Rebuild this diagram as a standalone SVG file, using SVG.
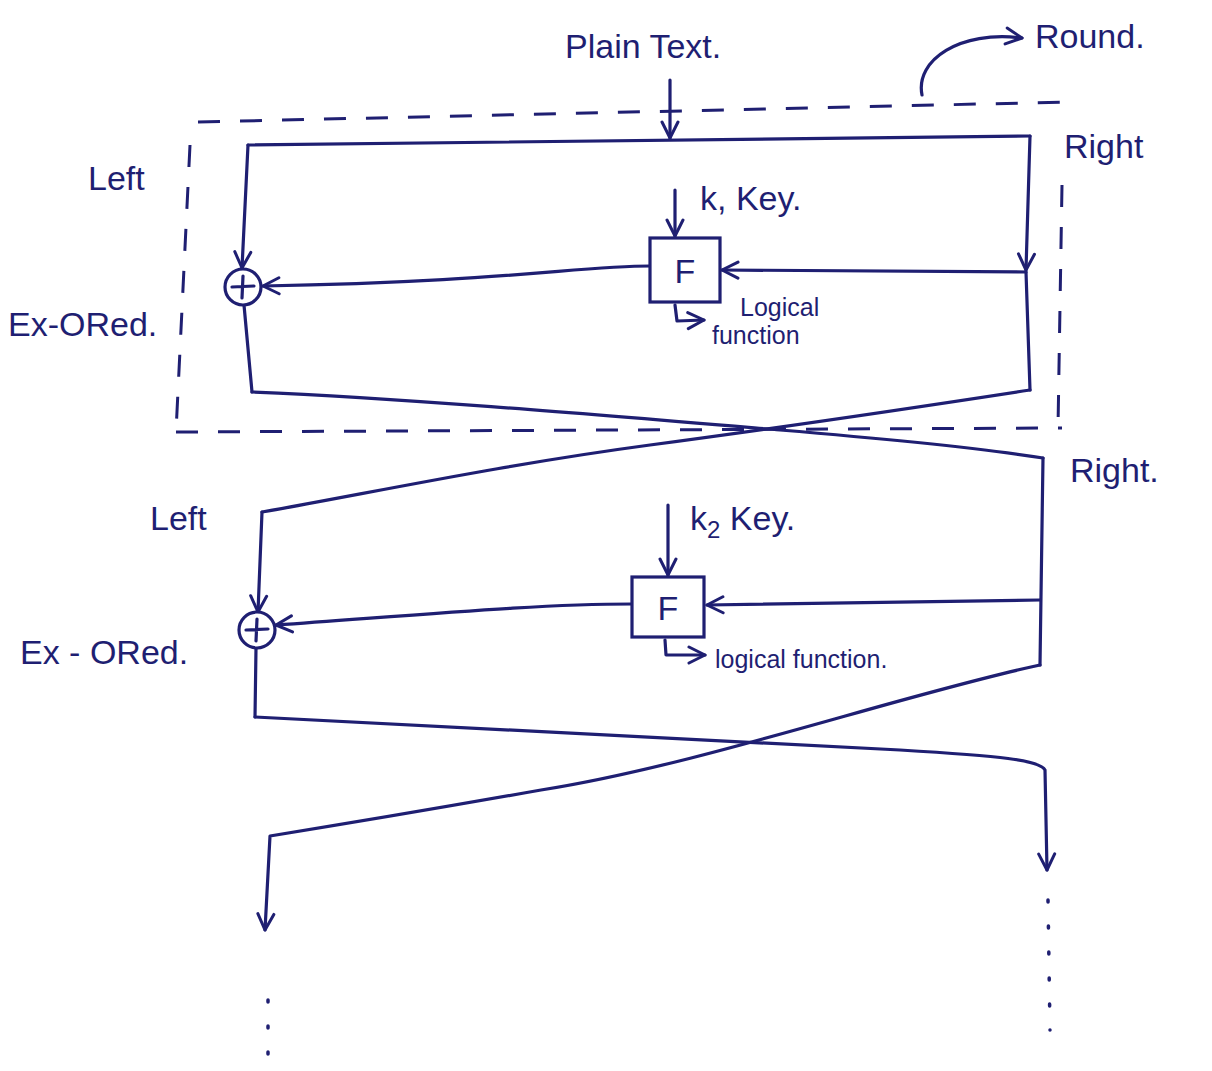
<svg xmlns="http://www.w3.org/2000/svg" width="1212" height="1071" viewBox="0 0 1212 1071">
<style>
.ln{fill:none;stroke:#1f1f72;stroke-width:3.2;stroke-linecap:round;stroke-linejoin:round}
.ds{fill:none;stroke:#1f1f72;stroke-width:3;stroke-dasharray:22 20}
.dt{fill:none;stroke:#1f1f72;stroke-width:3.5;stroke-dasharray:2 24;stroke-linecap:round}
.box{fill:#fff;stroke:#1f1f72;stroke-width:3.2}
text{font-family:"Liberation Sans","DejaVu Sans",sans-serif;fill:#1f1f72}
.lb{font-size:34px}
.sm{font-size:25px}
</style>
<defs>
<marker id="ah" viewBox="0 0 20 20" refX="18" refY="10" markerWidth="20" markerHeight="20" markerUnits="userSpaceOnUse" orient="auto">
<path d="M2,2 L18,10 L2,18" fill="none" stroke="#1f1f72" stroke-width="3" stroke-linecap="round" stroke-linejoin="round"/>
</marker>
</defs>
<rect width="1212" height="1071" fill="#ffffff"/>

<g id="labels">
<text class="lb" x="565" y="58">Plain Text.</text>
<text class="lb" x="1035" y="48">Round.</text>
<text class="lb" x="88" y="190">Left</text>
<text class="lb" x="1064" y="158">Right</text>
<text class="lb" x="8" y="336">Ex-ORed.</text>
<text class="lb" x="150" y="530">Left</text>
<text class="lb" x="1070" y="482">Right.</text>
<text class="lb" x="20" y="664">Ex - ORed.</text>
</g>

<g id="round-box">
<path class="ds" d="M198,122 L1068,102"/>
<path class="ds" d="M1062,185 L1058,428"/>
<path class="ds" d="M176,432 L1062,428"/>
<path class="ds" d="M190,145 L176,432"/>
</g>

<g id="connectors">
<path class="ln" d="M922,95 C915,60 960,30 1022,38" marker-end="url(#ah)"/>
<path class="ln" d="M670,80 L670,138" marker-end="url(#ah)"/>
<path class="ln" d="M248,145 L1030,136"/>
<path class="ln" d="M248,145 L242,268" marker-end="url(#ah)"/>
<path class="ln" d="M244,305 L252,392"/>
<path class="ln" d="M1030,136 L1026,270" marker-end="url(#ah)"/>
<path class="ln" d="M1026,272 L1030,390"/>
<path class="ln" d="M1026,272 L722,270" marker-end="url(#ah)"/>
<path class="ln" d="M650,266 C580,266 500,282 263,286" marker-end="url(#ah)"/>
<path class="ln" d="M675,190 L675,236" marker-end="url(#ah)"/>
<path class="ln" d="M675,305 L677,321 L704,320" marker-end="url(#ah)"/>
<path class="ln" d="M252,392 C400,398 600,415 780,430 C900,440 980,448 1043,458"/>
<path class="ln" d="M1030,390 C900,410 800,425 650,445 C500,465 360,495 262,512"/>
<path class="ln" d="M262,512 L258,612" marker-end="url(#ah)"/>
<path class="ln" d="M256,648 L255,717"/>
<path class="ln" d="M1043,458 L1040,665"/>
<path class="ln" d="M1040,600 L707,605" marker-end="url(#ah)"/>
<path class="ln" d="M632,604 C540,604 430,614 276,625" marker-end="url(#ah)"/>
<path class="ln" d="M668,505 L668,575" marker-end="url(#ah)"/>
<path class="ln" d="M665,640 L666,655 L705,655" marker-end="url(#ah)"/>
<path class="ln" d="M255,717 C450,728 650,738 900,750 C1000,756 1040,760 1045,770 L1047,870" marker-end="url(#ah)"/>
<path class="ln" d="M1040,665 C900,695 700,765 541,790 Q400,815 270,836 L265,930" marker-end="url(#ah)"/>
<path class="dt" d="M1048,900 L1050,1030"/>
<path class="dt" d="M268,1000 L268,1071"/>
</g>

<g id="xor1">
<circle class="box" cx="243" cy="287" r="18"/>
<path class="ln" d="M243,276 L242,298 M232,287 L254,286"/>
</g>
<g id="f1">
<rect class="box" x="650" y="238" width="70" height="64"/>
<text class="lb" x="685" y="283" text-anchor="middle">F</text>
<text class="lb" x="700" y="210">k, Key.</text>
<text class="sm" x="740" y="316">Logical</text>
<text class="sm" x="712" y="344">function</text>
</g>

<g id="xor2">
<circle class="box" cx="257" cy="630" r="18"/>
<path class="ln" d="M257,619 L256,641 M246,630 L268,629"/>
</g>
<g id="f2">
<rect class="box" x="632" y="577" width="72" height="60"/>
<text class="lb" x="668" y="620" text-anchor="middle">F</text>
<text class="lb" x="690" y="530">k<tspan font-size="24" dy="8">2</tspan><tspan dy="-8"> Key.</tspan></text>
<text class="sm" x="715" y="668">logical function.</text>
</g>
</svg>
